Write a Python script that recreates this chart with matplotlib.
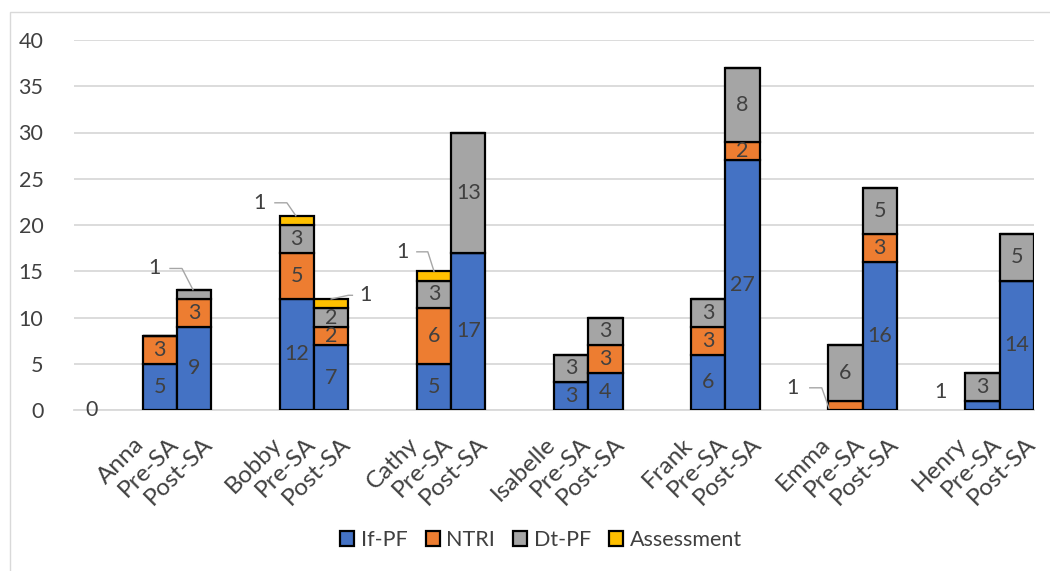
import numpy as np
import matplotlib
matplotlib.use("Agg")
import matplotlib.pyplot as plt
from matplotlib.patches import Rectangle
from matplotlib.transforms import ScaledTranslation

plt.rcParams["font.family"] = ["Lato", "DejaVu Sans"]

# ---- data: counts per student, before / after SA ----
names = ["Anna", "Bobby", "Cathy", "Isabelle", "Frank", "Emma", "Henry"]
phases = ["Pre-SA", "Post-SA"]
series = ["If-PF", "NTRI", "Dt-PF", "Assessment"]
if_pf_pre = [5, 12, 5, 3, 6, 0, 1]
if_pf_post = [9, 7, 17, 4, 27, 16, 14]
ntri_pre = [3, 5, 6, 0, 3, 1, 0]
ntri_post = [3, 2, 0, 3, 2, 3, 0]
dtpf_pre = [0, 3, 3, 3, 3, 6, 3]
dtpf_post = [1, 2, 13, 3, 8, 5, 5]
assess_pre = [0, 1, 1, 0, 0, 0, 0]
assess_post = [0, 1, 0, 0, 0, 0, 0]

colors = ["#4472C4", "#ED7D31", "#A5A5A5", "#FFC000"]
TXT = "#404040"
GRID = "#D9D9D9"
FS = 15.5

pre = np.array([if_pf_pre, ntri_pre, dtpf_pre, assess_pre])     # (series, student)
post = np.array([if_pf_post, ntri_post, dtpf_post, assess_post])

# slot layout: [blank, name, Pre-SA, Post-SA] per student
n = len(names)
x_pre = np.arange(n) * 4 + 2
x_post = x_pre + 1

# callouts for the thin (value 1) segments: label offset + leader path (slot units)
callouts = {
    ("Anna", 1): dict(lab=(-1.14, 15.3), path=[(-0.70, 15.3), (-0.35, 15.3), (-0.03, None)]),
    ("Bobby", 0): dict(lab=(-1.08, 22.4), path=[(-0.64, 22.4), (-0.29, 22.4), (-0.03, None)]),
    ("Bobby", 1): dict(lab=(1.0, 12.4), path=[(0.0, None), (0.50, 12.4), (0.62, 12.4)]),
    ("Cathy", 0): dict(lab=(-0.93, 17.1), path=[(-0.50, 17.1), (-0.18, 17.1), (0.0, None)]),
    ("Emma", 0): dict(lab=(-1.53, 2.4), path=[(-1.04, 2.4), (-0.69, 2.4), (-0.48, 0.2)]),
    ("Henry", 0): dict(lab=(-1.24, 1.9), path=None),
}

fig = plt.figure(figsize=(10.5, 5.71), dpi=100)
ax = fig.add_axes([74 / 1050, 1 - 410 / 571, 960 / 1050, 370 / 571])

for vals, xs, ph in ((pre, x_pre, 0), (post, x_post, 1)):
    bottom = np.zeros(n)
    for s in range(len(series)):
        h = vals[s]
        ax.bar(xs, h, width=1.0, bottom=bottom, color=colors[s],
               edgecolor="black", linewidth=1.6, zorder=3,
               label=series[s] if ph == 0 else None)
        for i in range(n):
            v = h[i]
            if v == 0:
                continue
            if v == 1:
                c = callouts[(names[i], ph)]
                top = bottom[i] + v
                ax.text(xs[i] + c["lab"][0], c["lab"][1], "1", color=TXT,
                        fontsize=FS, ha="center", va="center", zorder=5)
                if c["path"]:
                    px = [xs[i] + p[0] for p in c["path"]]
                    py = [top if p[1] is None else p[1] for p in c["path"]]
                    ax.plot(px, py, color="#A6A6A6", lw=1.0, zorder=4)
            else:
                ax.text(xs[i], bottom[i] + v / 2, str(v), color=TXT,
                        fontsize=FS, ha="center", va="center", zorder=5)
        bottom = bottom + h

# stray zero label in the first blank slot
ax.text(0, 0, "0", color=TXT, fontsize=FS, ha="center", va="center", zorder=5)

ax.set_xlim(-0.5, 4 * n - 0.5)
ax.set_ylim(0, 40)
ax.set_yticks(np.arange(0, 41, 5))
ax.yaxis.grid(True, color=GRID, lw=1.3, zorder=0)
ax.set_axisbelow(True)
for sp in ("top", "right", "left"):
    ax.spines[sp].set_visible(False)
ax.spines["bottom"].set_color(GRID)
ax.spines["bottom"].set_linewidth(1.3)

ticks, labels = [], []
for i, nm in enumerate(names):
    ticks += [4 * i + 1, 4 * i + 2, 4 * i + 3]
    labels += [nm] + phases
ax.set_xticks(ticks)
ax.set_xticklabels(labels, rotation=45, ha="right", rotation_mode="anchor")
ax.tick_params(axis="x", length=0, pad=17, labelsize=17.5, labelcolor=TXT)
ax.tick_params(axis="y", length=0, pad=22, labelsize=FS, labelcolor=TXT)
shift = ScaledTranslation(8 / 100, 0, fig.dpi_scale_trans)
for lab in ax.get_xticklabels():
    lab.set_transform(lab.get_transform() + shift)

fig.legend(loc="center", bbox_to_anchor=(541 / 1050, 1 - 540 / 571), ncol=4,
           frameon=False, fontsize=FS, labelcolor=TXT, handlelength=0.65,
           handleheight=0.65, handletextpad=0.3, columnspacing=0.85)

# outer chart border
fig.patches.append(Rectangle((9.5 / 1050, -0.1), 1.2, 1 - 11.5 / 571 + 0.1,
                             transform=fig.transFigure, fill=False,
                             edgecolor=GRID, lw=1.0))

fig.savefig("out.png", dpi=100)
